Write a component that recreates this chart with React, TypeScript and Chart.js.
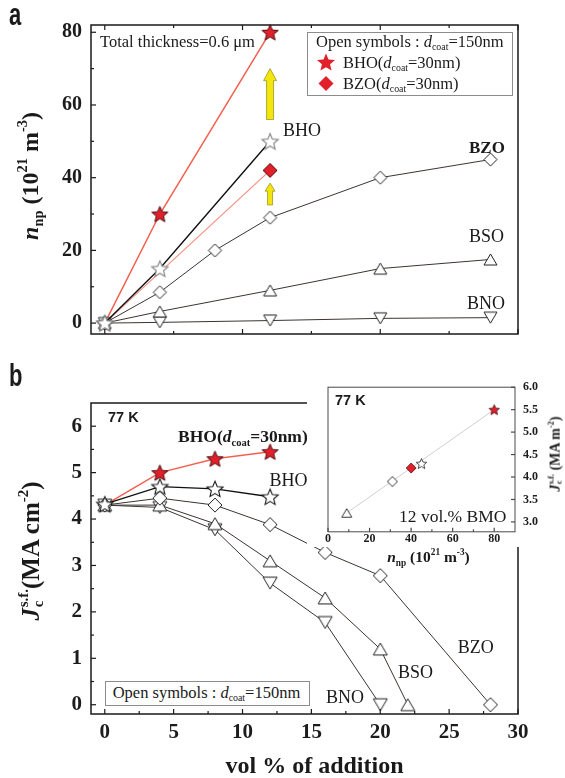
import React, { useEffect, useRef } from 'react';
import { Chart, registerables } from 'chart.js';
Chart.register(...registerables);

// ---------------- Data ----------------
// Panel a : n_np (10^21 m^-3) vs vol% of addition
const aBHO30_x = [0, 4, 12];
const aBHO30_y = [0, 30, 80];
const aBHO_x = [0, 4, 12];
const aBHO_y = [0, 15, 50];
const aBZO30_x = [0, 12];
const aBZO30_y = [0, 42];
const aBZO_x = [0, 4, 8, 12, 20, 28];
const aBZO_y = [0, 8.5, 20, 29, 40, 45];
const aBSO_x = [0, 4, 12, 20, 28];
const aBSO_y = [0, 3.2, 9, 15, 17.5];
const aBNO_x = [0, 4, 12, 20, 28];
const aBNO_y = [0, 0.2, 0.7, 1.3, 1.5];
const aArrowX = [12, 12];
const aArrowFrom = [56, 32.5];
const aArrowTo = [70, 38.5];

// Panel b : Jc s.f. (MA cm^-2) vs vol% of addition
const bBHO30_x = [0, 4, 8, 12];
const bBHO30_y = [4.3, 5.0, 5.3, 5.45];
const bBHO_x = [0, 4, 8, 12];
const bBHO_y = [4.32, 4.7, 4.65, 4.48];
const bBZO_x = [0, 4, 8, 12, 16, 20, 28];
const bBZO_y = [4.3, 4.45, 4.3, 3.88, 3.28, 2.78, 0];
const bBSO_x = [0, 4, 8, 12, 16, 20, 22];
const bBSO_y = [4.3, 4.3, 3.9, 3.1, 2.3, 1.2, 0];
const bBNO_x = [0, 4, 8, 12, 16, 20];
const bBNO_y = [4.3, 4.25, 3.77, 2.62, 1.77, 0];

// Inset : Jc vs n_np at 12 vol.% BMO
const iFit_x = [9, 80];
const iFit_y = [3.2, 5.5];
const iBSO_x = [9];
const iBSO_y = [3.2];
const iBZO_x = [31];
const iBZO_y = [3.9];
const iBZO30_x = [40];
const iBZO30_y = [4.2];
const iBHO_x = [45];
const iBHO_y = [4.3];
const iBHO30_x = [80];
const iBHO30_y = [5.5];

// Ticks
const volTicks = [0, 5, 10, 15, 20, 25, 30];
const volMinor = [2.5, 7.5, 12.5, 17.5, 22.5, 27.5];
const aXMajor = [0, 10, 20, 30];
const aXMinor = [5, 15, 25];
const aYTicks = [0, 20, 40, 60, 80];
const aYMinor = [10, 30, 50, 70];
const bYTicks = [0, 1, 2, 3, 4, 5, 6];
const bYMinor = [0.5, 1.5, 2.5, 3.5, 4.5, 5.5];
const iXTicks = [0, 20, 40, 60, 80];
const iXMinor = [10, 30, 50, 70];
const iYTicks = [3.0, 3.5, 4.0, 4.5, 5.0, 5.5, 6.0];

// ---------------- Styles ----------------
const RED = '#e2202b';
const RED_EDGE = '#4a0e0e';
const INK = '#1c1c1c';
const LINE = '#3b3430';
const SERIF = '"Liberation Serif", "Times New Roman", serif';
const SANS = '"Liberation Sans", Arial, sans-serif';
const arrowStyles = [
  { shaft: 7, head: 13, headLen: 12 },
  { shaft: 5, head: 10, headLen: 8 },
];

function makeMarker(shape: string, size: number, fill: string, stroke: string, lw: number) {
  const dim = Math.ceil(size + lw * 2 + 2);
  const c = document.createElement('canvas');
  c.width = dim;
  c.height = dim;
  const g = c.getContext('2d')!;
  g.translate(dim / 2, dim / 2);
  g.beginPath();
  const r = size / 2;
  if (shape === 'star') {
    for (let i = 0; i < 10; i++) {
      const a = -Math.PI / 2 + (i * Math.PI) / 5;
      const rr = i % 2 ? r * 0.45 : r;
      const px = rr * Math.cos(a);
      const py = rr * Math.sin(a) + r * 0.095;
      if (i === 0) g.moveTo(px, py);
      else g.lineTo(px, py);
    }
  } else if (shape === 'diamond') {
    g.moveTo(0, -r);
    g.lineTo(r, 0);
    g.lineTo(0, r);
    g.lineTo(-r, 0);
  } else if (shape === 'tri') {
    const h = size * 0.85;
    g.moveTo(0, -h / 2);
    g.lineTo(r, h / 2);
    g.lineTo(-r, h / 2);
  } else {
    const h = size * 0.85;
    g.moveTo(0, h / 2);
    g.lineTo(r, -h / 2);
    g.lineTo(-r, -h / 2);
  }
  g.closePath();
  g.fillStyle = fill;
  g.fill();
  g.lineJoin = 'miter';
  g.strokeStyle = stroke;
  g.lineWidth = lw;
  g.stroke();
  return c;
}

function ds(xs: number[], ys: number[], opts: any) {
  return {
    data: xs.map((x, i) => ({ x, y: ys[i] })),
    showLine: true,
    fill: false,
    tension: 0,
    pointRadius: 6,
    clip: false,
    ...opts,
  };
}

type TickSpec = { scale: string; side: string; values: number[]; len: number };

function framePlugin(id: string, ticks: TickSpec[], color: string, lw: number) {
  return {
    id,
    afterDraw(chart: any) {
      const { ctx, chartArea: ca, scales } = chart;
      ctx.save();
      ctx.strokeStyle = color;
      ctx.lineWidth = lw;
      ctx.strokeRect(ca.left, ca.top, ca.right - ca.left, ca.bottom - ca.top);
      ctx.lineWidth = 1.2;
      for (const t of ticks) {
        const sc = scales[t.scale];
        for (const v of t.values) {
          const p = sc.getPixelForValue(v);
          ctx.beginPath();
          if (t.side === 'bottom') {
            ctx.moveTo(p, ca.bottom);
            ctx.lineTo(p, ca.bottom - t.len);
          } else if (t.side === 'top') {
            ctx.moveTo(p, ca.top);
            ctx.lineTo(p, ca.top + t.len);
          } else if (t.side === 'left') {
            ctx.moveTo(ca.left, p);
            ctx.lineTo(ca.left + t.len, p);
          } else {
            ctx.moveTo(ca.right, p);
            ctx.lineTo(ca.right - t.len, p);
          }
          ctx.stroke();
        }
      }
      ctx.restore();
    },
  };
}

const arrowPlugin = {
  id: 'arrows',
  afterDatasetsDraw(chart: any) {
    const { ctx, scales } = chart;
    const xs = scales.x;
    const ysc = scales.y;
    aArrowX.forEach((xv, i) => {
      const st = arrowStyles[i];
      const px = xs.getPixelForValue(xv);
      const p0 = ysc.getPixelForValue(aArrowFrom[i]);
      const p1 = ysc.getPixelForValue(aArrowTo[i]);
      const hs = st.shaft / 2;
      const hh = st.head / 2;
      const hb = p1 + st.headLen;
      ctx.save();
      ctx.beginPath();
      ctx.moveTo(px - hs, p0);
      ctx.lineTo(px - hs, hb);
      ctx.lineTo(px - hh, hb);
      ctx.lineTo(px, p1);
      ctx.lineTo(px + hh, hb);
      ctx.lineTo(px + hs, hb);
      ctx.lineTo(px + hs, p0);
      ctx.closePath();
      ctx.fillStyle = '#f3e60c';
      ctx.fill();
      ctx.strokeStyle = '#a09420';
      ctx.lineWidth = 0.8;
      ctx.stroke();
      ctx.restore();
    });
  },
};

function baseOptions(padding: any) {
  return {
    responsive: false,
    animation: false,
    devicePixelRatio: 1,
    events: [],
    layout: { padding },
    plugins: { legend: { display: false }, tooltip: { enabled: false }, title: { display: false } },
  };
}

function axis(min: number, max: number, ticks: number[], extra: any) {
  return {
    type: 'linear',
    min,
    max,
    afterBuildTicks: (s: any) => {
      s.ticks = ticks.map((v) => ({ value: v }));
    },
    grid: { display: false, drawTicks: false },
    border: { display: false },
    ...extra,
  };
}

function makeA() {
  const redStar = makeMarker('star', 17, RED, RED_EDGE, 1);
  const openStar = makeMarker('star', 17, '#fff', '#8a8a8a', 1.2);
  const openDia = makeMarker('diamond', 13, '#fff', '#222', 1);
  const redDia = makeMarker('diamond', 14, RED, RED_EDGE, 1);
  const triUp = makeMarker('tri', 13, '#fff', '#222', 1);
  const triDown = makeMarker('tridown', 13, '#fff', '#222', 1);
  return {
    type: 'scatter',
    data: {
      datasets: [
        ds(aBHO_x, aBHO_y, { borderColor: '#111', borderWidth: 1.4, pointStyle: openStar, order: 1 }),
        ds(aBZO_x, aBZO_y, { borderColor: LINE, borderWidth: 1, pointStyle: openDia, order: 2 }),
        ds(aBSO_x, aBSO_y, { borderColor: LINE, borderWidth: 1, pointStyle: triUp, order: 3 }),
        ds(aBNO_x, aBNO_y, { borderColor: LINE, borderWidth: 1, pointStyle: triDown, order: 4 }),
        ds(aBZO30_x, aBZO30_y, { borderColor: '#f4907f', borderWidth: 1.2, pointStyle: redDia, pointRadius: [0, 7], order: 5 }),
        ds(aBHO30_x, aBHO30_y, { borderColor: '#f2604f', borderWidth: 1.5, pointStyle: redStar, order: 6 }),
      ],
    },
    options: {
      ...baseOptions({ left: 0, top: 25, right: 47, bottom: 0 }),
      scales: {
        x: axis(-1, 30, volTicks, {
          ticks: { display: false },
          afterFit: (s: any) => {
            s.height = 36;
          },
        }),
        y: axis(-3, 82, aYTicks, {
          ticks: { font: { family: SERIF, size: 20, weight: 'bold' }, color: INK, padding: 9 },
          afterFit: (s: any) => {
            s.width = 91;
          },
        }),
      },
    },
    plugins: [
      arrowPlugin,
      framePlugin(
        'frameA',
        [
          { scale: 'x', side: 'bottom', values: aXMajor, len: 5 },
          { scale: 'x', side: 'bottom', values: aXMinor, len: 3 },
          { scale: 'x', side: 'top', values: aXMajor, len: 5 },
          { scale: 'x', side: 'top', values: aXMinor, len: 3 },
          { scale: 'y', side: 'left', values: aYTicks, len: 5 },
          { scale: 'y', side: 'left', values: aYMinor, len: 3 },
        ],
        '#1a1a1a',
        1.5
      ),
    ],
  };
}

function makeB() {
  const redStar = makeMarker('star', 17, RED, RED_EDGE, 1);
  const openStar = makeMarker('star', 17, '#fff', '#1a1a1a', 1.1);
  const openDia = makeMarker('diamond', 14, '#fff', '#222', 1);
  const triUp = makeMarker('tri', 14, '#fff', '#222', 1);
  const triDown = makeMarker('tridown', 14, '#fff', '#222', 1);
  return {
    type: 'scatter',
    data: {
      datasets: [
        ds(bBHO_x, bBHO_y, { borderColor: '#111', borderWidth: 1.3, pointStyle: openStar, order: 1 }),
        ds(bBZO_x, bBZO_y, { borderColor: LINE, borderWidth: 1, pointStyle: openDia, order: 2 }),
        ds(bBSO_x, bBSO_y, { borderColor: LINE, borderWidth: 1, pointStyle: triUp, order: 3 }),
        ds(bBNO_x, bBNO_y, { borderColor: LINE, borderWidth: 1, pointStyle: triDown, order: 4 }),
        ds(bBHO30_x, bBHO30_y, { borderColor: '#f2604f', borderWidth: 1.5, pointStyle: redStar, pointRadius: [0, 6, 6, 6], order: 6 }),
      ],
    },
    options: {
      ...baseOptions({ left: 0, top: 33, right: 47, bottom: 0 }),
      scales: {
        x: axis(-1, 30, volTicks, {
          ticks: { font: { family: SERIF, size: 21, weight: 'bold' }, color: INK, padding: 6 },
          afterFit: (s: any) => {
            s.height = 64;
          },
        }),
        y: axis(-0.2, 6.5, bYTicks, {
          ticks: { font: { family: SERIF, size: 21, weight: 'bold' }, color: INK, padding: 9 },
          afterFit: (s: any) => {
            s.width = 91;
          },
        }),
      },
    },
    plugins: [
      framePlugin(
        'frameB',
        [
          { scale: 'x', side: 'bottom', values: volTicks, len: 5 },
          { scale: 'x', side: 'bottom', values: volMinor, len: 3 },
          { scale: 'y', side: 'left', values: bYTicks, len: 5 },
          { scale: 'y', side: 'left', values: bYMinor, len: 3 },
        ],
        '#1a1a1a',
        1.5
      ),
    ],
  };
}

function makeInset() {
  const redStar = makeMarker('star', 11, RED, RED_EDGE, 0.8);
  const openStar = makeMarker('star', 11, '#fff', '#222', 0.8);
  const openDia = makeMarker('diamond', 10, '#fff', '#222', 0.9);
  const redDia = makeMarker('diamond', 10, RED, RED_EDGE, 0.8);
  const triUp = makeMarker('tri', 10, '#fff', '#222', 0.9);
  const pts = { showLine: false, pointRadius: 5 };
  return {
    type: 'scatter',
    data: {
      datasets: [
        ds(iBHO30_x, iBHO30_y, { ...pts, pointStyle: redStar, order: 1 }),
        ds(iBHO_x, iBHO_y, { ...pts, pointStyle: openStar, order: 2 }),
        ds(iBZO30_x, iBZO30_y, { ...pts, pointStyle: redDia, order: 3 }),
        ds(iBZO_x, iBZO_y, { ...pts, pointStyle: openDia, order: 4 }),
        ds(iBSO_x, iBSO_y, { ...pts, pointStyle: triUp, order: 5 }),
        ds(iFit_x, iFit_y, { borderColor: '#cfcfcf', borderWidth: 1, pointRadius: 0, order: 10 }),
      ],
    },
    options: {
      ...baseOptions({ left: 21, top: 11, right: 0, bottom: 0 }),
      scales: {
        x: axis(0, 90, iXTicks, {
          ticks: { font: { family: SERIF, size: 12, weight: 'bold' }, color: INK, padding: 0 },
          afterFit: (s: any) => {
            s.height = 15;
          },
        }),
        y: axis(2.78, 6.0, iYTicks, {
          position: 'right',
          ticks: {
            font: { family: SERIF, size: 12, weight: 'bold' },
            color: INK,
            padding: 8,
            callback: (v: any) => Number(v).toFixed(1),
          },
          afterFit: (s: any) => {
            s.width = 50;
          },
        }),
      },
    },
    plugins: [
      framePlugin(
        'frameI',
        [
          { scale: 'x', side: 'bottom', values: iXTicks, len: 4 },
          { scale: 'x', side: 'bottom', values: iXMinor, len: 2.5 },
          { scale: 'y', side: 'right', values: iYTicks, len: 4 },
        ],
        '#4a4a4a',
        1
      ),
    ],
  };
}

function ChartCanvas({ make, left, top, width, height }: any) {
  const ref = useRef<HTMLCanvasElement>(null);
  useEffect(() => {
    const chart = new Chart(ref.current as HTMLCanvasElement, make());
    return () => chart.destroy();
  }, []);
  return (
    <canvas
      ref={ref}
      width={width}
      height={height}
      style={{ position: 'absolute', left, top, width, height, background: '#fff' }}
    />
  );
}

const Sub = ({ children }: any) => (
  <span style={{ fontSize: '0.6em', verticalAlign: '-0.35em', lineHeight: 0 }}>{children}</span>
);
const Sup = ({ children }: any) => (
  <span style={{ fontSize: '0.6em', verticalAlign: '0.75em', lineHeight: 0 }}>{children}</span>
);
const Stack = ({ top, bottom }: any) => (
  <span
    style={{
      display: 'inline-flex',
      flexDirection: 'column',
      fontSize: '0.6em',
      lineHeight: 1,
      verticalAlign: '0.75em',
      marginLeft: '0.05em',
    }}
  >
    <span>{top}</span>
    <span>{bottom}</span>
  </span>
);

function T({ x, y, size = 18, bold = false, sans = false, center = false, rotate = false, children, style }: any) {
  let transform = 'translateY(-50%)';
  if (center) transform = 'translate(-50%,-50%)';
  if (rotate) transform = 'translate(-50%,-50%) rotate(-90deg)';
  return (
    <div
      style={{
        position: 'absolute',
        left: x,
        top: y,
        transform,
        fontSize: size,
        fontWeight: bold ? 'bold' : 'normal',
        fontFamily: sans ? SANS : SERIF,
        lineHeight: 1,
        whiteSpace: 'nowrap',
        color: '#1a1a1a',
        ...style,
      }}
    >
      {children}
    </div>
  );
}

function starPoints(cx: number, cy: number, r: number) {
  const p: string[] = [];
  for (let i = 0; i < 10; i++) {
    const a = -Math.PI / 2 + (i * Math.PI) / 5;
    const rr = i % 2 ? r * 0.45 : r;
    p.push(`${(cx + rr * Math.cos(a)).toFixed(2)},${(cy + rr * Math.sin(a) + r * 0.095).toFixed(2)}`);
  }
  return p.join(' ');
}

const D = () => (
  <>
    <i>d</i>
    <Sub>coat</Sub>
  </>
);

export default function App() {
  return (
    <div
      style={{
        position: 'absolute',
        left: 0,
        top: 0,
        width: 565,
        height: 778,
        background: '#fff',
        overflow: 'hidden',
        fontFamily: SERIF,
      }}
    >
      <ChartCanvas make={makeA} left={0} top={0} width={565} height={370} />
      <ChartCanvas make={makeB} left={0} top={370} width={565} height={408} />
      <ChartCanvas make={makeInset} left={307} top={372} width={258} height={175} />

      {/* panel letters */}
      <T x={9} y={15} size={22} bold sans style={{ transform: 'translateY(-50%) scale(1,1.4)' }}>
        a
      </T>
      <T x={9} y={376} size={22} bold sans style={{ transform: 'translateY(-50%) scale(1,1.4)' }}>
        b
      </T>

      {/* panel a texts */}
      <T x={100} y={42} size={16.5}>
        Total thickness=0.6 μm
      </T>
      <div
        style={{
          position: 'absolute',
          left: 307,
          top: 32,
          width: 204,
          height: 62,
          border: '1px solid #8c8c8c',
          background: '#fff',
        }}
      />
      <T x={316} y={42} size={16.5}>
        Open symbols : <D />=150nm
      </T>
      <svg style={{ position: 'absolute', left: 314, top: 50, overflow: 'visible' }} width={24} height={44}>
        <polygon points={starPoints(12, 12, 9.5)} fill={RED} />
        <polygon points="12,26 19.5,33.5 12,41 4.5,33.5" fill={RED} />
      </svg>
      <T x={343} y={63} size={16.5}>
        BHO(<D />=30nm)
      </T>
      <T x={343} y={84} size={16.5}>
        BZO(<D />=30nm)
      </T>
      <T x={283} y={130} size={18}>
        BHO
      </T>
      <T x={469} y={147} size={17} bold>
        BZO
      </T>
      <T x={469} y={236} size={18}>
        BSO
      </T>
      <T x={467} y={303} size={18}>
        BNO
      </T>
      <T x={30} y={176} size={24} bold rotate>
        <i>n</i>
        <Sub>np</Sub> (10<Sup>21</Sup> m<Sup>-3</Sup>)
      </T>

      {/* panel b texts */}
      <T x={108} y={417} size={14.5} bold sans>
        77 K
      </T>
      <T x={178} y={437} size={17.5} bold>
        BHO(
        <i>d</i>
        <Sub>coat</Sub>=30nm)
      </T>
      <T x={269.5} y={480} size={18}>
        BHO
      </T>
      <T x={457.7} y={647} size={18}>
        BZO
      </T>
      <T x={398} y={672} size={18}>
        BSO
      </T>
      <T x={326} y={697} size={18}>
        BNO
      </T>
      <div
        style={{
          position: 'absolute',
          left: 104.5,
          top: 680.5,
          width: 203,
          height: 23,
          border: '1px solid #8c8c8c',
          background: '#fff',
        }}
      />
      <T x={112.7} y={693} size={16.5}>
        Open symbols : <D />=150nm
      </T>
      <T x={31} y={551} size={25} bold rotate>
        <i>J</i>
        <Stack top="s.f." bottom="c" />
        (MA cm<Sup>-2</Sup>)
      </T>
      <T x={314.5} y={765} size={24} bold center>
        vol % of addition
      </T>

      {/* inset texts */}
      <T x={335} y={400} size={14.5} bold sans>
        77 K
      </T>
      <T x={399} y={517} size={17.5}>
        12 vol.% BMO
      </T>
      <T x={428.5} y={557} size={15.5} bold center>
        <i>n</i>
        <Sub>np</Sub> (10<Sup>21</Sup> m<Sup>-3</Sup>)
      </T>
      <T x={556} y={454} size={14} bold rotate>
        <i>J</i>
        <Stack top="s.f." bottom="c" /> (MA m<Sup>-2</Sup>)
      </T>
    </div>
  );
}
